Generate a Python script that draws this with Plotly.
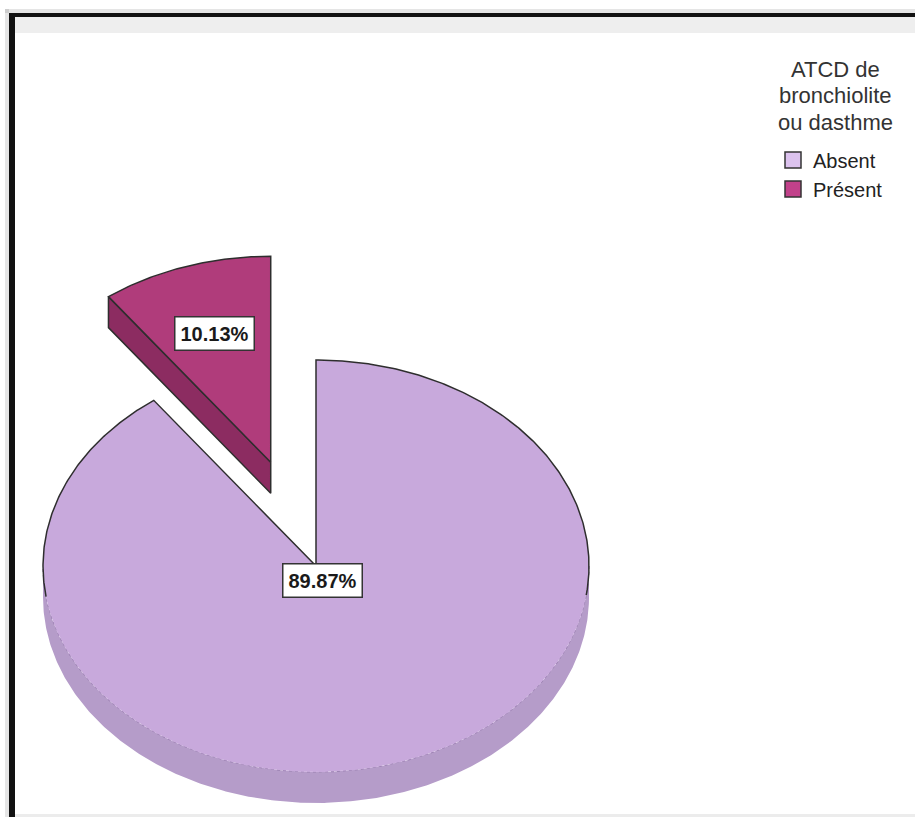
import numpy as np
import plotly.graph_objects as go

# Data
categories = ["Absent", "Présent"]
percentages = [89.87, 10.13]
legend_title_lines = ["ATCD de", "bronchiolite", "ou dasthme"]

# Styling
top_colors = ["#C8A9DC", "#B03C7B"]
side_colors = ["#B59CC9", "#8C2C61"]
swatch_colors = ["#DCC2EE", "#C1418A"]
outline = "#2E2E2E"
FONT = "Arial, Liberation Sans, sans-serif"

# Canvas and pie geometry (pixel units)
W, H = 915, 817
CX, CY = 316, 566
RX, RY = 273, 206
DEPTH = 31
EXPLODE = [0.0, 0.53]
LABEL_FRAC = [0.075, 0.656]


def rim(theta, dx=0.0, dy=0.0, drop=0.0):
    t = np.radians(theta)
    return CX + dx + RX * np.sin(t), CY + dy - RY * np.cos(t) + drop


def arc(a, b, dx=0.0, dy=0.0, drop=0.0, n=None):
    if n is None:
        n = max(2, int(abs(b - a) * 2))
    th = np.linspace(a, b, n)
    x, y = rim(th, dx, dy, drop)
    return list(x), list(y)


# Angular spans, clockwise from 12 o'clock
bounds = np.concatenate([[0.0], np.cumsum(percentages) / sum(percentages) * 360.0])

fig = go.Figure()

for i, name in enumerate(categories):
    s, e = bounds[i], bounds[i + 1]
    mid = (s + e) / 2
    ux, uy = RX * np.sin(np.radians(mid)), -RY * np.cos(np.radians(mid))
    dx, dy = EXPLODE[i] * ux, EXPLODE[i] * uy
    ax, ay = CX + dx, CY + dy

    # outer wall, front half only
    lo, hi = max(s, 90.0), min(e, 270.0)
    if hi > lo:
        tx, ty = arc(lo, hi, dx, dy)
        bx, by = arc(hi, lo, dx, dy, DEPTH)
        fig.add_trace(go.Scatter(x=tx + bx, y=ty + by, fill="toself", mode="lines",
                                 line=dict(width=0), fillcolor=side_colors[i],
                                 hoverinfo="skip", showlegend=False))
        fig.add_trace(go.Scatter(x=tx, y=ty, mode="lines",
                                 line=dict(color="#9A80B0", width=1.2, dash="dot"),
                                 hoverinfo="skip", showlegend=False))

    # radial cut faces that turn towards the viewer
    for th, visible in ((s, np.sin(np.radians(s)) < -1e-6), (e, np.sin(np.radians(e)) > 1e-6)):
        if visible:
            rx_, ry_ = rim(th, dx, dy)
            qx = [ax, rx_, rx_, ax, ax]
            qy = [ay, ry_, ry_ + DEPTH, ay + DEPTH, ay]
            fig.add_trace(go.Scatter(x=qx, y=qy, fill="toself", mode="lines",
                                     line=dict(color=outline, width=1.5),
                                     fillcolor=side_colors[i],
                                     hoverinfo="skip", showlegend=False))

    # top face
    tx, ty = arc(s, e, dx, dy)
    fig.add_trace(go.Scatter(x=[ax] + tx + [ax], y=[ay] + ty + [ay], fill="toself",
                             mode="lines", line=dict(width=0), fillcolor=top_colors[i],
                             name=name, hovertemplate=f"{name}: {percentages[i]:.2f}%<extra></extra>",
                             showlegend=False))

    # outline: radii plus the rear part of the rim
    th = np.linspace(s, e, max(2, int((e - s) * 2)))
    ox, oy = [ax], [ay]
    for t in th:
        px, py = rim(t, dx, dy)
        if np.cos(np.radians(t)) > -0.15:
            ox.append(px); oy.append(py)
        else:
            ox.append(None); oy.append(None)
    ox.append(ax); oy.append(ay)
    fig.add_trace(go.Scatter(x=ox, y=oy, mode="lines", line=dict(color=outline, width=1.5),
                             connectgaps=False, hoverinfo="skip", showlegend=False))

    # percentage label
    lx, ly = ax + LABEL_FRAC[i] * ux, ay + LABEL_FRAC[i] * uy
    fig.add_annotation(x=lx, y=ly, text=f"<b>{percentages[i]:.2f}%</b>", showarrow=False,
                       font=dict(family=FONT, size=20, color="#1A1A1A"),
                       bgcolor="white", bordercolor="#333333", borderwidth=1.5, borderpad=5)

# legend entries
for i, name in enumerate(categories):
    fig.add_trace(go.Scatter(x=[None], y=[None], mode="markers", name=name,
                             marker=dict(symbol="square", size=19, color=swatch_colors[i],
                                         line=dict(color="#333333", width=1.5))))

# legend heading, one centred line at a time
for k, line in enumerate(legend_title_lines):
    fig.add_annotation(x=835, y=69 + 26.5 * k, text=line, showarrow=False,
                       xanchor="center", yanchor="middle",
                       font=dict(family=FONT, size=22, color="#333333"))

# frame
shapes = [
    dict(type="rect", x0=5, x1=W, y0=9, y1=13, fillcolor="rgba(0,0,0,0.10)", line_width=0),
    dict(type="rect", x0=5, x1=9, y0=9, y1=H, fillcolor="rgba(0,0,0,0.10)", line_width=0),
    dict(type="rect", x0=15, x1=W, y0=17, y1=33, fillcolor="#EEEEEE", line_width=0),
    dict(type="rect", x0=9, x1=W, y0=13, y1=17, fillcolor="#111111", line_width=0),
    dict(type="rect", x0=9, x1=15, y0=13, y1=H, fillcolor="#111111", line_width=0),
    dict(type="rect", x0=15, x1=W, y0=814, y1=H, fillcolor="#ECECEC", line_width=0),
]
for sh in shapes:
    sh.update(xref="x", yref="y", layer="above")

fig.update_layout(
    width=W, height=H,
    margin=dict(l=0, r=0, t=0, b=0),
    paper_bgcolor="white", plot_bgcolor="white",
    xaxis=dict(range=[0, W], visible=False, fixedrange=True),
    yaxis=dict(range=[H, 0], visible=False, fixedrange=True),
    shapes=shapes,
    showlegend=True,
    legend=dict(
        x=773 / W, y=1 - 140.5 / H, xanchor="left", yanchor="top",
        bgcolor="rgba(0,0,0,0)",
        font=dict(family=FONT, size=20, color="#222222"),
        itemwidth=30,
    ),
    font=dict(family=FONT),
)

fig.write_html("out.html")
